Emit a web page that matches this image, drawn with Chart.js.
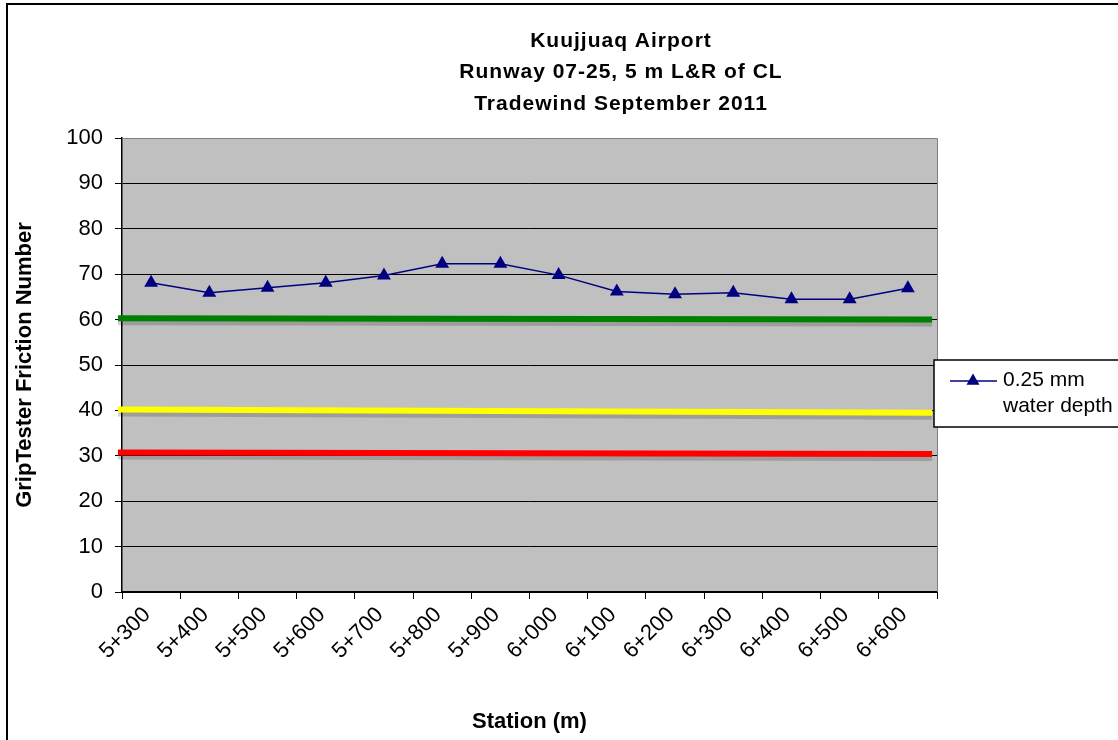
<!DOCTYPE html>
<html>
<head>
<meta charset="utf-8">
<script src="https://cdn.jsdelivr.net/npm/chart.js@4.4.1/dist/chart.umd.min.js"></script>
<style>
  html, body { margin: 0; padding: 0; background: #fff; }
  #wrap { width: 1118px; height: 740px; }
</style>
</head>
<body>
<div id="wrap"><canvas id="frictionChart" width="1118" height="740"></canvas></div>
<script>
// Daten
const titleLines = ['Kuujjuaq Airport', 'Runway 07-25, 5 m L&R of CL', 'Tradewind September 2011'];
const stations = ['5+300', '5+400', '5+500', '5+600', '5+700', '5+800', '5+900',
                  '6+000', '6+100', '6+200', '6+300', '6+400', '6+500', '6+600'];
const frictionValues = [68.1, 65.9, 67.0, 68.1, 69.7, 72.3, 72.3, 69.8, 66.2, 65.6, 65.9, 64.5, 64.5, 66.9];
const seriesLabel = ['0.25 mm', 'water depth'];

// Grenzlinien (Anfang / Ende)
const lineSpan = [-0.005, 0.994];
const greenLine = [60.3, 60.0];
const yellowLine = [40.2, 39.5];
const redLine = [30.7, 30.4];

const FONT = '"Liberation Sans", Arial, sans-serif';

function spanData(vals) {
    return lineSpan.map((x, i) => ({ x: x, y: vals[i] }));
}

function limitDataset(vals, color) {
    return {
        data: spanData(vals),
        xAxisID: 'x2',
        borderColor: color,
        borderWidth: 6,
        pointRadius: 0,
        fill: false,
        clip: false,
        shadow: true
    };
}

// Hintergrund, Rahmen, Titel und Legende
const decoPlugin = {
    id: 'deco',
    beforeDraw(chart) {
        const { ctx, chartArea: a } = chart;
        ctx.save();
        ctx.fillStyle = '#c0c0c0';
        ctx.fillRect(a.left, a.top, a.right - a.left, a.bottom - a.top);
        ctx.restore();
    },
    beforeDatasetDraw(chart, args) {
        if (args.meta._dataset.shadow) {
            const ctx = chart.ctx;
            ctx.save();
            ctx.shadowColor = 'rgba(0,0,0,0.18)';
            ctx.shadowOffsetY = 4;
            ctx.shadowBlur = 0;
        }
    },
    afterDatasetDraw(chart, args) {
        if (args.meta._dataset.shadow) chart.ctx.restore();
    },
    afterDraw(chart) {
        const { ctx, chartArea: a } = chart;
        ctx.save();
        // Plotrahmen rechts / oben
        ctx.strokeStyle = '#808080';
        ctx.lineWidth = 1;
        ctx.beginPath();
        ctx.moveTo(a.left, a.top + 0.5);
        ctx.lineTo(a.right + 0.5, a.top + 0.5);
        ctx.lineTo(a.right + 0.5, a.bottom);
        ctx.stroke();

        // Aussenrahmen
        ctx.strokeStyle = '#000';
        ctx.lineWidth = 2;
        ctx.strokeRect(7, 4, 1300, 900);

        // Titel
        ctx.fillStyle = '#000';
        ctx.font = 'bold 21px ' + FONT;
        ctx.textAlign = 'center';
        ctx.textBaseline = 'middle';
        ctx.letterSpacing = '1px';
        titleLines.forEach((t, i) => ctx.fillText(t, 621, 41 + i * 31.5));
        ctx.letterSpacing = '0px';

        // Legende
        ctx.fillStyle = '#fff';
        ctx.fillRect(934, 360, 200, 67);
        ctx.strokeStyle = '#000';
        ctx.lineWidth = 1.5;
        ctx.strokeRect(934, 360, 200, 67);
        ctx.strokeStyle = '#000080';
        ctx.lineWidth = 1.5;
        ctx.beginPath();
        ctx.moveTo(950, 381);
        ctx.lineTo(997, 381);
        ctx.stroke();
        ctx.fillStyle = '#000080';
        const r = 7.5, cx = 973, cy = 381;
        ctx.beginPath();
        ctx.moveTo(cx, cy - r);
        ctx.lineTo(cx + r * 0.866, cy + r * 0.5);
        ctx.lineTo(cx - r * 0.866, cy + r * 0.5);
        ctx.closePath();
        ctx.fill();
        ctx.fillStyle = '#000';
        ctx.font = '21px ' + FONT;
        ctx.textAlign = 'left';
        seriesLabel.forEach((t, i) => ctx.fillText(t, 1003, 380 + i * 26));
        ctx.restore();
    }
};

const ctx = document.getElementById('frictionChart').getContext('2d');
const frictionChart = new Chart(ctx, {
    type: 'line',
    data: {
        labels: stations,
        datasets: [
            limitDataset(greenLine, '#008000'),
            limitDataset(yellowLine, '#ffff00'),
            limitDataset(redLine, '#ff0000'),
            {
                label: seriesLabel.join(' '),
                data: frictionValues,
                borderColor: '#000080',
                backgroundColor: '#000080',
                borderWidth: 1.5,
                pointStyle: 'triangle',
                pointRadius: 8,
                pointBorderWidth: 0,
                tension: 0,
                fill: false
            }
        ]
    },
    options: {
        responsive: false,
        animation: false,
        layout: { padding: { top: 138, right: 181, left: 0, bottom: 0 } },
        plugins: {
            legend: { display: false },
            title: { display: false },
            tooltip: { enabled: false }
        },
        scales: {
            x: {
                type: 'category',
                offset: true,
                grid: { offset: true, drawOnChartArea: false, tickLength: 7, color: '#000', lineWidth: 1 },
                border: { color: '#000', width: 2 },
                ticks: {
                    color: '#000', font: { family: FONT, size: 22 },
                    maxRotation: 45, minRotation: 45, padding: 3, labelOffset: -4, autoSkip: false
                },
                title: {
                    display: true, text: 'Station (m)', color: '#000',
                    font: { family: FONT, size: 22, weight: 'bold' },
                    padding: { top: 0, bottom: 5 }
                },
                afterFit(scale) { scale.height = 148; }
            },
            x2: { type: 'linear', min: 0, max: 1, display: false },
            y: {
                min: 0, max: 100,
                ticks: { stepSize: 10, color: '#000', font: { family: FONT, size: 22 }, padding: 12 },
                grid: { color: '#000', lineWidth: 1, tickLength: 7 },
                border: { color: '#000', width: 1.5 },
                title: {
                    display: true, text: 'GripTester Friction Number', color: '#000',
                    font: { family: FONT, size: 22, weight: 'bold' },
                    padding: { top: 12, bottom: 0 }
                },
                afterFit(scale) { scale.width = 122; }
            }
        }
    },
    plugins: [decoPlugin]
});
</script>
</body>
</html>
